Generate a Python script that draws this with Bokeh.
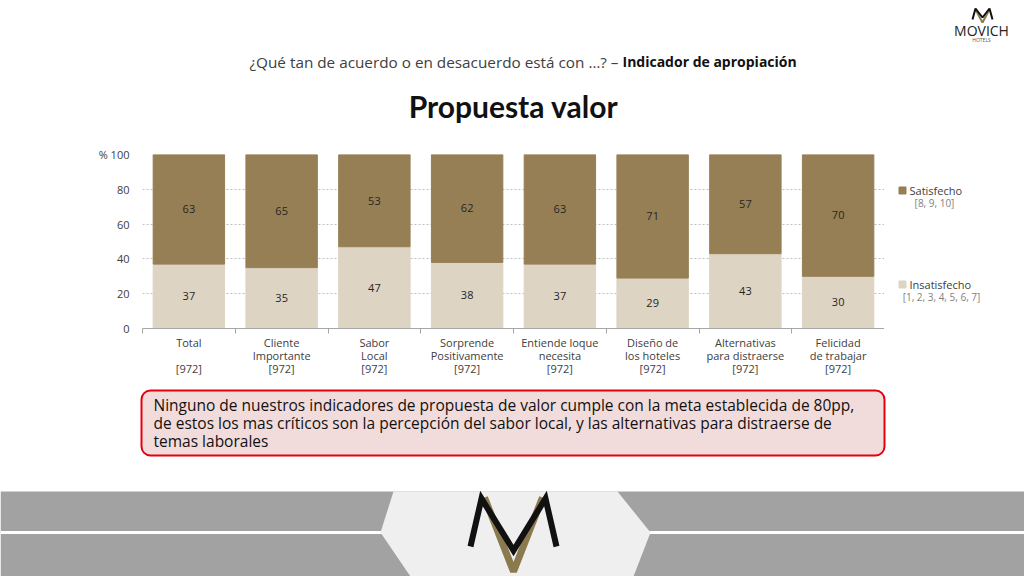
from bokeh.plotting import figure
from bokeh.models import ColumnDataSource, Range1d, FixedTicker, BoxAnnotation
from bokeh.layouts import column, row
from bokeh.embed import file_html
from bokeh.resources import INLINE
from bokeh.core.properties import value

# ---------------- data ----------------
categories = [
    "Total\n\n[972]",
    "Cliente\nImportante\n[972]",
    "Sabor\nLocal\n[972]",
    "Sorprende\nPositivamente\n[972]",
    "Entiende loque\nnecesita\n[972]",
    "Diseño de\nlos hoteles\n[972]",
    "Alternativas\npara distraerse\n[972]",
    "Felicidad\nde trabajar\n[972]",
]
insatisfecho = [37, 35, 47, 38, 37, 29, 43, 30]
satisfecho = [63, 65, 53, 62, 63, 71, 57, 70]
series_names = ["Satisfecho", "Insatisfecho"]
series_notes = ["[8, 9, 10]", "[1, 2, 3, 4, 5, 6, 7]"]
y_ticks = [0, 20, 40, 60, 80, 100]
y_tick_labels = ["0", "20", "40", "60", "80", "% 100"]
subtitle_plain = "¿Qué tan de acuerdo o en desacuerdo está con …? –"
subtitle_bold = "Indicador de apropiación"
title_text = "Propuesta valor"
note_lines = [
    "Ninguno de nuestros indicadores de propuesta de valor cumple con la meta establecida de 80pp,",
    "de estos los mas críticos son la percepción del sabor local, y las alternativas para distraerse de",
    "temas laborales",
]
brand = "MOVICH"

DARK = "#967F54"
LIGHT = "#DDD4C3"
FONT = value("Open Sans")
TXT = "#404040"


def Y(py):
    # page y (from top) -> canvas y (from bottom)
    return 576 - py


def canvas(w, h, x0, x1, top_py, bottom_py, **kw):
    opts = dict(min_border=0)
    opts.update(kw)
    p = figure(width=w, height=h, x_range=Range1d(x0, x1),
               y_range=Range1d(Y(bottom_py), Y(top_py)),
               output_backend="svg", toolbar_location=None,
               x_axis_location=None, y_axis_location=None, **opts)
    p.grid.visible = False
    p.outline_line_color = None
    p.background_fill_color = None
    p.border_fill_color = "white"
    return p


# ---------------- header ----------------
head = canvas(1024, 140, 0, 1024, 0, 140)
head.text(x=[618], y=[Y(61)], text=[subtitle_plain], text_align="right",
          text_baseline="middle", text_font_size="15.3px", text_color=TXT, text_font=FONT)
head.text(x=[622], y=[Y(61)], text=[subtitle_bold], text_align="left",
          text_baseline="middle", text_font_size="14px", text_color="#111111",
          text_font=FONT, text_font_style="bold")
head.text(x=[513], y=[Y(105)], text=[title_text], text_align="center",
          text_baseline="middle", text_font_size="30px", text_color="#111111",
          text_font=value("Lato"), text_font_style="bold")
# small brand mark top right
head.multi_line(xs=[[975, 982, 989]], ys=[[Y(9), Y(22), Y(9)]], line_color="#8C7A4F", line_width=2)
head.multi_line(xs=[[972, 975, 982, 989, 992]], ys=[[Y(19), Y(8), Y(17), Y(8), Y(19)]],
                line_color="#111111", line_width=2)
head.text(x=[981], y=[Y(30)], text=[brand], text_align="center", text_baseline="middle",
          text_font_size="14px", text_color="#222222", text_font=FONT)
head.text(x=[981], y=[Y(39)], text=["HOTELS"], text_align="center", text_baseline="middle",
          text_font_size="5px", text_color="#555555", text_font=FONT)

# ---------------- chart ----------------
xs = list(range(len(categories)))
src = ColumnDataSource(dict(
    x=xs, ins=insatisfecho, sat=satisfecho,
    ins_mid=[v / 2 for v in insatisfecho],
    sat_mid=[i + s / 2 for i, s in zip(insatisfecho, satisfecho)],
    ins_lbl=[str(v) for v in insatisfecho],
    sat_lbl=[str(v) for v in satisfecho],
))

p = figure(width=884, height=248, x_range=Range1d(-0.5, len(categories) - 0.5),
           y_range=Range1d(0, 100), output_backend="svg", toolbar_location=None,
           min_border_left=142, min_border_right=0, min_border_top=14, min_border_bottom=60)
p.outline_line_color = None
p.vbar_stack(["ins", "sat"], x="x", width=0.77, color=[LIGHT, DARK], source=src)
p.text(x="x", y="ins_mid", text="ins_lbl", source=src, text_align="center",
       text_baseline="middle", text_font_size="11px", text_color="#262626", text_font=FONT)
p.text(x="x", y="sat_mid", text="sat_lbl", source=src, text_align="center",
       text_baseline="middle", text_font_size="11px", text_color="#262626", text_font=FONT)

p.xgrid.visible = False
p.ygrid.ticker = FixedTicker(ticks=y_ticks)
p.ygrid.grid_line_color = "#BFBFBF"
p.ygrid.grid_line_dash = "2 2"
p.ygrid.level = "underlay"

p.yaxis.ticker = FixedTicker(ticks=y_ticks)
p.yaxis.major_label_overrides = {t: l for t, l in zip(y_ticks, y_tick_labels)}
p.yaxis.axis_line_color = None
p.yaxis.major_tick_line_color = None
p.yaxis.minor_tick_line_color = None
p.yaxis.major_label_standoff = 7
p.yaxis.major_label_text_font_size = "11px"
p.yaxis.major_label_text_color = TXT
p.yaxis.major_label_text_font = "Open Sans"

p.xaxis.ticker = FixedTicker(ticks=xs, minor_ticks=[i - 0.5 for i in range(len(categories) + 1)])
p.xaxis.major_label_overrides = {i: c for i, c in zip(xs, categories)}
p.xaxis.axis_line_color = "#A6A6A6"
p.xaxis.major_tick_line_color = None
p.xaxis.minor_tick_line_color = "#A6A6A6"
p.xaxis.minor_tick_in = 0
p.xaxis.minor_tick_out = 5
p.xaxis.major_label_standoff = 0
p.xaxis.major_label_text_font_size = "11px"
p.xaxis.major_label_text_color = TXT
p.xaxis.major_label_text_font = "Open Sans"
p.xaxis.major_label_text_line_height = 0.87

# legend panel (frame aligned with the chart frame: page y 154..328)
leg = canvas(140, 248, 884, 1024, 154, 328, min_border_top=14, min_border_bottom=60,
             min_border_left=0, min_border_right=0)
leg_src = ColumnDataSource(dict(
    sx=[902, 902], sy=[Y(190), Y(284)], col=[DARK, LIGHT],
    tx=[909, 909], name=series_names,
    nx=[934, 941], ny=[Y(202), Y(296)], note=series_notes,
))
leg.scatter(x="sx", y="sy", marker="square", size=7, color="col", source=leg_src)
leg.text(x="tx", y="sy", text="name", source=leg_src, text_align="left", text_baseline="middle",
         text_font_size="11px", text_color=TXT, text_font=FONT)
leg.text(x="nx", y="ny", text="note", source=leg_src, text_align="center", text_baseline="middle",
         text_font_size="10px", text_color="#7F7F7F", text_font=FONT)

chart_row = row(p, leg, spacing=0)

# ---------------- note box ----------------
box = canvas(1024, 96, 0, 1024, 388, 484)
box.add_layout(BoxAnnotation(left=141, right=884, top=Y(390), bottom=Y(455),
                             fill_color="#F2DCDB", fill_alpha=1.0, line_color="#E3000F",
                             line_width=2, line_alpha=1.0, border_radius=9, level="underlay"))
box.text(x=[153, 153, 153], y=[Y(404), Y(422), Y(440)], text=note_lines, text_align="left",
         text_baseline="middle", text_font_size="15.5px", text_color="#111111", text_font=FONT)

# ---------------- footer ----------------
foot = canvas(1024, 92, 0, 1024, 484, 576)
foot.quad(left=[0], right=[1024], bottom=[Y(576)], top=[Y(491)], fill_color="#A2A2A2", line_color=None)
foot.segment(x0=[0], y0=[Y(532)], x1=[1024], y1=[Y(532)], line_color="white", line_width=3)
foot.patch(x=[393, 617, 650, 633, 410, 380], y=[Y(491), Y(491), Y(532), Y(576), Y(576), Y(532)],
           fill_color="#EFEFEF", line_color=None)
foot.line(x=[484, 513, 542], y=[Y(497), Y(571), Y(497)], line_color="#8C7A4F", line_width=7)
foot.line(x=[470, 481, 513, 545, 556], y=[Y(546), Y(498), Y(550), Y(498), Y(546)],
          line_color="#111111", line_width=6, line_join="miter")

layout = column(head, chart_row, box, foot, spacing=0)
open("out.html", "w").write(file_html(layout, INLINE))
